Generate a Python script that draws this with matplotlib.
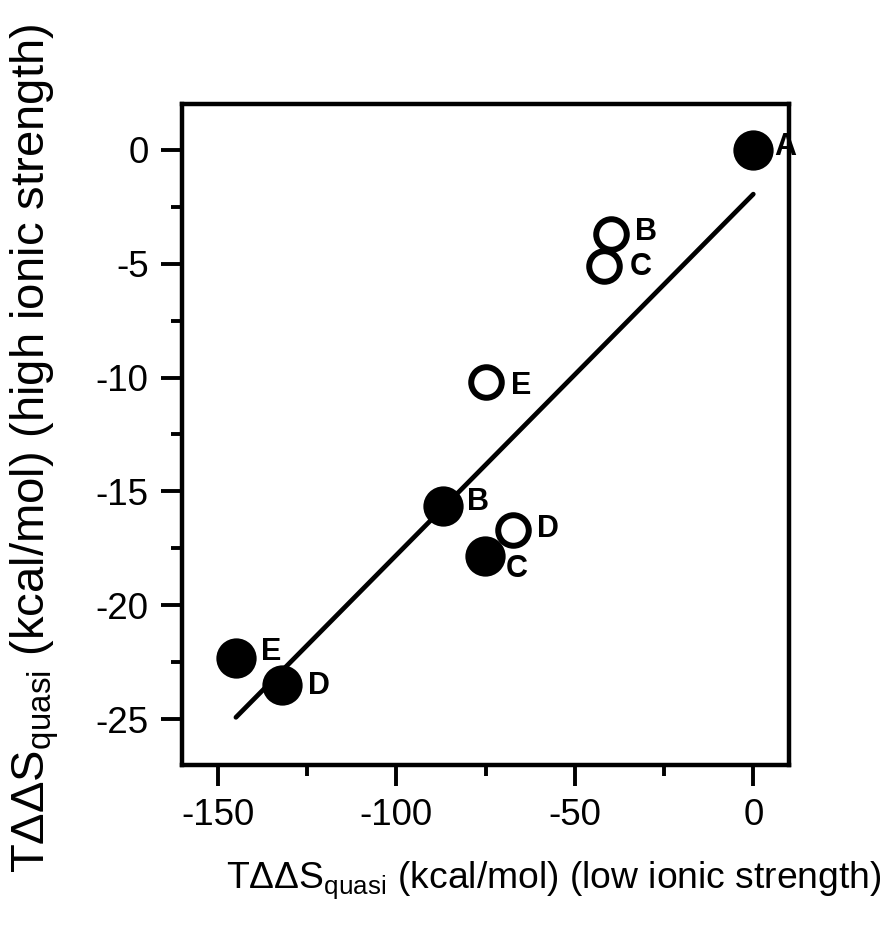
import matplotlib
matplotlib.use("Agg")
import matplotlib.pyplot as plt
import numpy as np

# ---- data ----
filled_labels = ["A", "B", "C", "D", "E"]
filled_x = [0.0, -86.9, -75.1, -132.0, -144.9]
filled_y = [0.0, -15.65, -17.85, -23.5, -22.3]

open_labels = ["B", "C", "D", "E"]
open_x = [-39.8, -41.8, -67.2, -74.8]
open_y = [-3.72, -5.1, -16.68, -10.18]

x_ticks = [-150, -100, -50, 0]
y_ticks = [0, -5, -10, -15, -20, -25]

FONT = ["Liberation Sans", "DejaVu Sans"]
plt.rcParams["font.family"] = FONT
plt.rcParams["axes.unicode_minus"] = False
plt.rcParams["mathtext.fontset"] = "custom"
plt.rcParams["mathtext.rm"] = "Liberation Sans"
plt.rcParams["mathtext.it"] = "Liberation Sans:italic"
plt.rcParams["mathtext.bf"] = "Liberation Sans:bold"

fig = plt.figure(figsize=(8.92, 9.36), dpi=100)
ax = fig.add_axes([182/892, 1-765/936, (789-182)/892, (765-104)/936])

# regression line through filled points
coef = np.polyfit(filled_x, filled_y, 1)
lx = np.array([min(filled_x), max(filled_x)])
ax.plot(lx, np.polyval(coef, lx), color="black", lw=3.4, solid_capstyle="round", zorder=2)

ax.plot(filled_x, filled_y, "o", ms=29, mfc="black", mec="black", mew=0, zorder=3)
ax.plot(open_x, open_y, "o", ms=22, mfc="white", mec="black", mew=4.3, zorder=3)

filled_off = [(21, 3), (24, 4), (21, -13), (26, -1), (25, 6)]
open_off = [(24, 2), (26, -1), (24, 1), (25, -4)]
for lab, x, y, off in zip(filled_labels, filled_x, filled_y, filled_off):
    ax.annotate(lab, (x, y), xytext=off, textcoords="offset pixels",
                ha="left", va="center", fontsize=22, fontweight="bold", family=FONT)
for lab, x, y, off in zip(open_labels, open_x, open_y, open_off):
    ax.annotate(lab, (x, y), xytext=off, textcoords="offset pixels",
                ha="left", va="center", fontsize=22, fontweight="bold", family=FONT)

ax.set_xlim(-160, 10)
ax.set_ylim(-27, 2)
ax.set_xticks(x_ticks)
ax.set_yticks(y_ticks)
ax.set_xticks([-125, -75, -25], minor=True)
ax.set_yticks([-2.5, -7.5, -12.5, -17.5, -22.5], minor=True)
ax.tick_params(which="major", direction="out", length=15, width=2.8, labelsize=26.5, pad=9)
ax.tick_params(which="minor", direction="out", length=8, width=2.8)
for s in ax.spines.values():
    s.set_linewidth(3.2)

fig.text(554/892, 1-880/936,
         r"TΔΔS$_{\mathrm{quasi}}$ (kcal/mol) (low ionic strength)",
         ha="center", va="center", fontsize=26.8)
fig.text(35/892, 1-448/936,
         r"TΔΔS$_{\mathrm{quasi}}$ (kcal/mol) (high ionic strength)",
         ha="center", va="center", rotation=90, fontsize=34)

fig.savefig("out.png", dpi=100)
